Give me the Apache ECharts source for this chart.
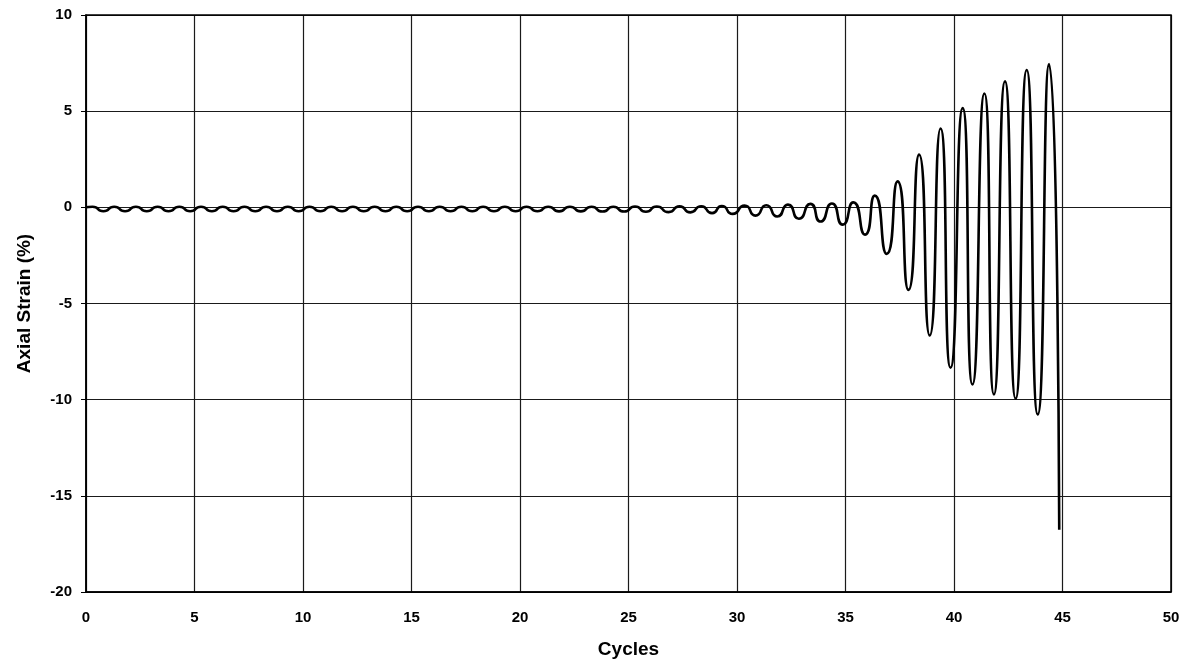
<!DOCTYPE html>
<html>
<head>
<meta charset="utf-8">
<title>Axial Strain vs Cycles</title>
<script src="https://cdn.jsdelivr.net/npm/echarts@6/dist/echarts.min.js"></script>
<style>
  html, body { margin: 0; padding: 0; background: #fff; }
  #chart { width: 1192px; height: 670px; }
</style>
</head>
<body>
<div id="chart"></div>
<script>
// Turning points of the cyclic loading record: alternating crests and troughs
const cycle = [
  0,
  0.3, 0.8, 1.3, 1.8, 2.3, 2.8, 3.3, 3.8, 4.3, 4.8,
  5.3, 5.8, 6.3, 6.8, 7.3, 7.8, 8.3, 8.8, 9.3, 9.8,
  10.3, 10.8, 11.3, 11.8, 12.3, 12.8, 13.3, 13.8, 14.3, 14.8,
  15.3, 15.8, 16.3, 16.8, 17.3, 17.8, 18.3, 18.8, 19.3, 19.8,
  20.3, 20.8, 21.3, 21.8, 22.3, 22.8, 23.3, 23.8, 24.3, 24.8,
  25.3, 25.8, 26.3, 26.85, 27.35, 27.85, 28.35, 28.85, 29.3, 29.8,
  30.35, 30.85, 31.35, 31.85, 32.35, 32.85, 33.38, 33.85, 34.37, 34.87,
  35.36, 35.9, 36.35, 36.9, 37.4, 37.9, 38.39, 38.88, 39.38, 39.84,
  40.4, 40.85, 41.4, 41.84, 42.35, 42.84, 43.35, 43.86, 44.38, 44.85
];
const strain = [
  0,
  0.03, -0.2, 0.03, -0.2, 0.03, -0.2, 0.03, -0.2, 0.03, -0.2,
  0.03, -0.2, 0.03, -0.2, 0.03, -0.2, 0.03, -0.2, 0.03, -0.2,
  0.03, -0.2, 0.03, -0.2, 0.03, -0.2, 0.03, -0.2, 0.03, -0.2,
  0.03, -0.2, 0.03, -0.2, 0.03, -0.2, 0.03, -0.2, 0.03, -0.2,
  0.03, -0.2, 0.03, -0.21, 0.03, -0.21, 0.03, -0.22, 0.03, -0.22,
  0.04, -0.23, 0.04, -0.25, 0.05, -0.26, 0.06, -0.3, 0.07, -0.34,
  0.09, -0.43, 0.11, -0.48, 0.14, -0.59, 0.18, -0.74, 0.2, -0.9,
  0.26, -1.42, 0.61, -2.42, 1.35, -4.29, 2.74, -6.66, 4.1, -8.34,
  5.16, -9.21, 5.92, -9.73, 6.55, -9.95, 7.14, -10.77, 7.45, -16.76
];

const xTicks = { min: 0, max: 50, step: 5 };
const yTicks = { min: -20, max: 10, step: 5 };

const points = cycle.map((c, i) => [c, strain[i]]);
const font = "'Liberation Sans', Arial, sans-serif";

const chart = echarts.init(document.getElementById('chart'), null, { renderer: 'canvas' });
chart.setOption({
  backgroundColor: '#ffffff',
  animation: false,
  grid: { left: 86, right: 21, top: 15, bottom: 78, show: false },
  xAxis: {
    type: 'value',
    min: xTicks.min, max: xTicks.max, interval: xTicks.step,
    name: 'Cycles',
    nameLocation: 'middle',
    nameGap: 48,
    nameTextStyle: { fontFamily: font, fontWeight: 'bold', fontSize: 19, color: '#000' },
    axisLine: { show: true, onZero: false, lineStyle: { color: '#000', width: 1.5 } },
    axisTick: { show: false },
    axisLabel: { margin: 18, fontFamily: font, fontWeight: 'bold', fontSize: 15, color: '#000' },
    splitLine: { show: true, lineStyle: { color: '#1a1a1a', width: 1.2 } }
  },
  yAxis: {
    type: 'value',
    min: yTicks.min, max: yTicks.max, interval: yTicks.step,
    name: 'Axial Strain (%)',
    nameLocation: 'middle',
    nameGap: 52,
    nameTextStyle: { fontFamily: font, fontWeight: 'bold', fontSize: 19, color: '#000' },
    axisLine: { show: true, onZero: false, lineStyle: { color: '#000', width: 1.5 } },
    axisTick: { show: true, inside: false, length: 5, lineStyle: { color: '#000' } },
    axisLabel: { margin: 14, fontFamily: font, fontWeight: 'bold', fontSize: 15, color: '#000' },
    splitLine: { show: true, lineStyle: { color: '#1a1a1a', width: 1.2 } }
  },
  series: [{
    type: 'line',
    data: points,
    smooth: 0.7,
    showSymbol: false,
    clip: false,
    lineStyle: { color: '#000', width: 2.6 }
  }]
});
// frame on the right and top edges of the plot area
const g = chart.getModel().getComponent('grid').coordinateSystem.getRect();
chart.setOption({
  graphic: [{
    type: 'rect',
    shape: { x: g.x, y: g.y, width: g.width, height: g.height },
    style: { fill: 'none', stroke: '#000', lineWidth: 1.5 },
    silent: true
  }]
});
</script>
</body>
</html>
